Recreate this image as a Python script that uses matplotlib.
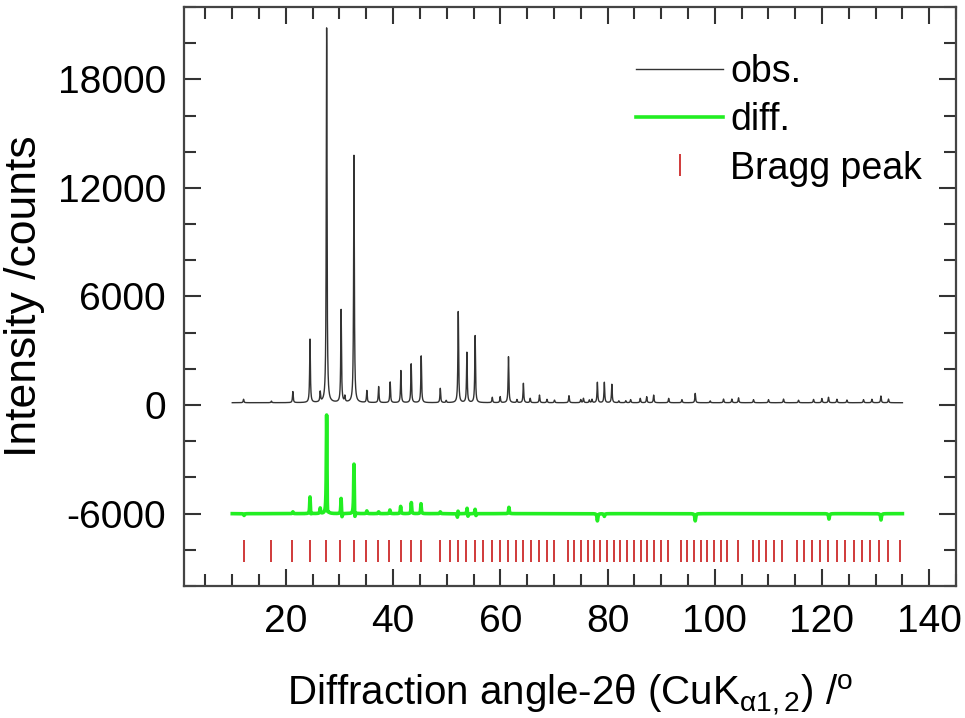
import numpy as np
import matplotlib
matplotlib.use("Agg")
import matplotlib.pyplot as plt
from matplotlib.ticker import MultipleLocator

plt.rcParams['font.family'] = ['Liberation Sans', 'DejaVu Sans']
plt.rcParams['mathtext.fontset'] = 'custom'
plt.rcParams['mathtext.rm'] = 'Liberation Sans'
plt.rcParams['mathtext.it'] = 'Liberation Sans'
plt.rcParams['axes.unicode_minus'] = False

# --- observed pattern: reflection positions (2theta, deg) and peak-top intensities (counts)
obs_pos = [12.1, 17.3, 21.3, 24.5, 26.4, 27.6, 30.3, 31.0, 32.7, 35.1, 37.3, 39.45,
           41.45, 43.37, 45.24, 48.8, 49.9, 52.15, 53.76, 55.3, 58.5, 59.97, 61.52,
           63.1, 64.3, 65.57, 67.3, 68.7, 70.1, 72.8, 75.0, 75.5, 76.6, 77.1, 78.1,
           79.4, 80.8, 82.1, 83.4, 84.3, 86.1, 87.3, 88.6, 91.4, 93.87, 96.35, 99.15,
           101.63, 103.19, 104.43, 107.22, 110.02, 112.82, 115.62, 118.42, 119.98,
           121.21, 122.78, 124.65, 127.74, 129.31, 130.99, 132.4]
obs_top = [320, 220, 740, 3630, 680, 20830, 5250, 450, 13790, 790, 1015, 1270,
           1900, 2270, 2710, 920, 250, 5160, 2900, 3830, 425, 460, 2670,
           300, 1200, 370, 550, 315, 275, 515, 300, 370, 280, 315, 1255,
           1255, 1145, 230, 240, 300, 370, 460, 550, 370, 300, 645, 230,
           330, 330, 400, 300, 300, 330, 270, 310, 360,
           430, 320, 280, 300, 320, 500, 330]
obs_start, obs_end = 10.0, 135.0
obs_background = 130

# --- difference curve (obs - calc), plotted with an offset
diff_offset = -6000
diff_up_pos = [21.3, 24.5, 26.4, 27.6, 30.3, 32.7, 35.1, 37.3, 39.4, 41.4, 43.4,
               45.2, 48.8, 52.1, 53.8, 55.3, 61.6]
diff_up_amp = [100, 960, 300, 5620, 920, 2890, 150, 100, 200, 400, 610,
               550, 100, 250, 350, 280, 350]
diff_dn_pos = [12.2, 24.65, 27.75, 30.45, 32.85, 52.0, 53.95, 55.45, 78.1, 79.4,
               96.35, 121.3, 131.0]
diff_dn_amp = [100, 150, 650, 320, 590, 270, 200, 150, 400, 150,
               400, 300, 350]

# --- Bragg reflection markers
bragg_pos = [12.22, 17.31, 21.23, 24.53, 27.52, 30.18, 32.74, 35.03, 37.22, 39.32,
             41.38, 43.32, 45.18,
             48.73, 50.52, 52.05, 53.63, 55.25, 56.84, 58.43, 59.92, 61.34, 62.83,
             64.32, 65.79, 67.21, 68.68, 70.08,
             72.53, 73.78, 75.03, 76.26, 77.51, 78.63, 79.88, 81.11, 82.36, 83.61,
             84.97, 86.22, 87.45, 88.70, 89.95, 91.26,
             93.68, 94.91, 96.16, 97.41, 98.64, 99.89, 101.14, 102.37, 104.24,
             107.11, 108.34, 109.59, 111.08, 112.52,
             115.32, 116.69, 118.12, 119.67, 121.21, 122.78, 124.33, 125.88, 127.44,
             128.99, 130.72, 132.40, 134.46]
bragg_level = -8050


def lorentz(x, x0, fwhm):
    g = fwhm / 2.0
    return g * g / ((x - x0) ** 2 + g * g)


tt = np.arange(obs_start, obs_end + 0.005, 0.01)

obs = np.full_like(tt, float(obs_background))
for p, h in zip(obs_pos, obs_top):
    obs += (h - obs_background) * lorentz(tt, p, 0.16)

diff = np.full_like(tt, float(diff_offset))
for p, a in zip(diff_up_pos, diff_up_amp):
    diff += a * lorentz(tt, p, 0.14)
for p, a in zip(diff_dn_pos, diff_dn_amp):
    diff -= a * lorentz(tt, p, 0.18)

fig = plt.figure(figsize=(9.65, 7.18), dpi=100)
ax = fig.add_axes([0.1907, 0.1838, 0.8, 0.8065])

ax.plot(tt, obs, color='#333333', lw=1.0, label='obs.')
ax.plot(tt, diff, color='#22ee22', lw=2.6, label='diff.')
ax.plot(bragg_pos, np.full(len(bragg_pos), bragg_level), ls='none', marker='|',
        ms=16, mew=1.4, color='#d03a3a', label='Bragg peak')

ax.set_xlim(1, 145)
ax.set_ylim(-10000, 22000)
ax.xaxis.set_major_locator(MultipleLocator(20))
ax.xaxis.set_minor_locator(MultipleLocator(5))
ax.yaxis.set_major_locator(MultipleLocator(6000))
ax.yaxis.set_minor_locator(MultipleLocator(2000))

ax.tick_params(which='both', direction='in', top=True, right=True,
               color='#333333', labelsize=28)
ax.tick_params(which='major', length=12, width=1.5, pad=13)
ax.tick_params(which='minor', length=8.5, width=1.5)
for s in ax.spines.values():
    s.set_linewidth(1.6)
    s.set_color('#444444')

ax.set_ylabel('Intensity /counts', fontsize=32, labelpad=9)
ax.set_xlabel(r'Diffraction angle-2$\theta$ (CuK$_{\alpha 1,2}$) /$^{\rm o}$',
              fontsize=29, labelpad=23)

ax.legend(loc='upper right', bbox_to_anchor=(0.985, 0.958), frameon=False,
          fontsize=27, handlelength=2.3, handletextpad=0.2, labelspacing=0.33,
          borderaxespad=0.2)

fig.savefig('out.png', dpi=100)
